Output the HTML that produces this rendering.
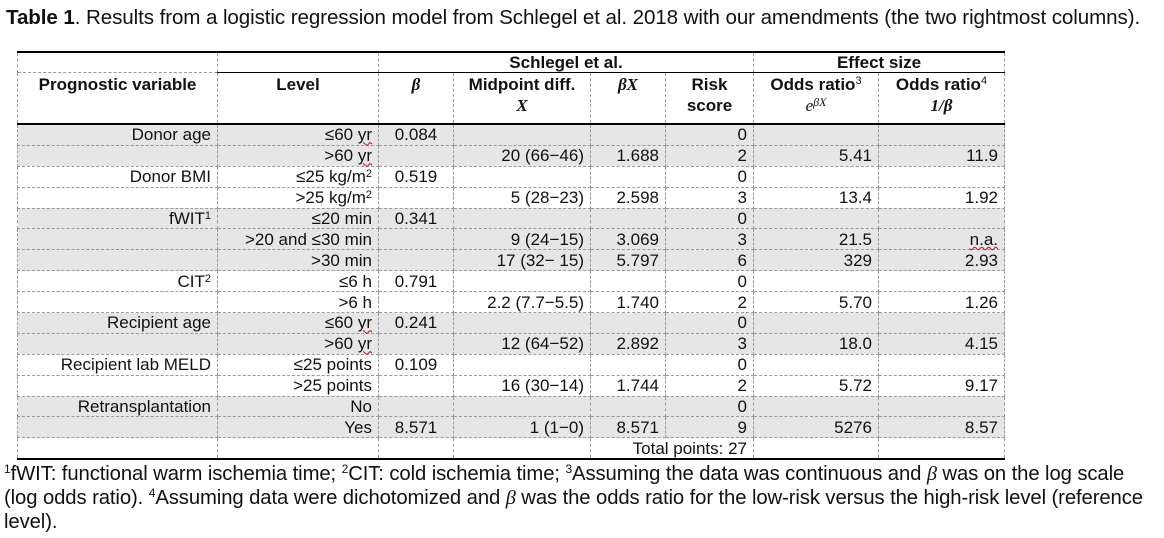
<!DOCTYPE html>
<html><head><meta charset="utf-8"><style>
body{margin:0;width:1164px;height:538px;background:#fff;font-family:"Liberation Sans",Arial,sans-serif;color:#111;position:relative;overflow:hidden}
.title{position:absolute;left:6px;top:6px;font-size:20.6px;white-space:nowrap;letter-spacing:-0.1px}
table{position:absolute;left:17px;top:51px;border-collapse:collapse;table-layout:fixed;font-size:17px;border-top:2px solid #000}
td{border:1px dashed #9a9a9a;padding:0 6px;height:19.9px;line-height:19px;text-align:right;white-space:nowrap;overflow:visible}
tr.g td{background:#e6e6e6}
thead td{font-weight:bold;text-align:center}
.r1 td{height:19px;border-top:2px solid #000;border-bottom:1px solid #000}
.r2 td{height:49px;border-bottom:2px solid #000;vertical-align:top;line-height:21px;padding-top:1px}
.r1 td.n{border-bottom:none}
.tot td{border-bottom:2px solid #000}
i.m{font-family:"Liberation Serif",serif;font-style:italic;font-weight:bold}
sup{font-size:11px;font-weight:normal;vertical-align:top;line-height:14px}
.u{text-decoration:underline wavy #d00;text-decoration-thickness:1px}
.foot{position:absolute;left:4px;top:462px;font-size:20.3px;line-height:24px;white-space:nowrap;letter-spacing:-0.1px}
.foot sup{font-size:12px}
</style></head><body>
<div class="title"><b>Table 1</b>. Results from a logistic regression model from Schlegel et al. 2018 with our amendments (the two rightmost columns).</div>
<table>
<colgroup><col style="width:200px"><col style="width:161px"><col style="width:75px"><col style="width:137px"><col style="width:75px"><col style="width:88px"><col style="width:125px"><col style="width:126px"></colgroup>
<thead>
<tr class="r1"><td class="n"></td><td></td><td colspan="4">Schlegel et al.</td><td colspan="2">Effect size</td></tr>
<tr class="r2"><td>Prognostic variable</td><td>Level</td><td><i class="m">β</i></td><td>Midpoint diff.<br><i class="m">X</i></td><td><i class="m">βX</i></td><td>Risk<br>score</td><td>Odds ratio<sup>3</sup><br><i class="m" style="font-weight:normal">e<sup style="font-size:12px">βX</sup></i></td><td>Odds ratio<sup>4</sup><br><i class="m">1/β</i></td></tr>
</thead>
<tbody>
<tr class="g"><td>Donor age</td><td>≤60 <span class="u">yr</span></td><td style="text-align:center">0.084</td><td></td><td></td><td>0</td><td></td><td></td></tr>
<tr class="g"><td></td><td>&gt;60 <span class="u">yr</span></td><td></td><td>20 (66−46)</td><td>1.688</td><td>2</td><td>5.41</td><td>11.9</td></tr>
<tr><td>Donor BMI</td><td>≤25 kg/m<sup>2</sup></td><td style="text-align:center">0.519</td><td></td><td></td><td>0</td><td></td><td></td></tr>
<tr><td></td><td>&gt;25 kg/m<sup>2</sup></td><td></td><td>5 (28−23)</td><td>2.598</td><td>3</td><td>13.4</td><td>1.92</td></tr>
<tr class="g"><td>fWIT<sup>1</sup></td><td>≤20 min</td><td style="text-align:center">0.341</td><td></td><td></td><td>0</td><td></td><td></td></tr>
<tr class="g"><td></td><td>&gt;20 and ≤30 min</td><td></td><td>9 (24−15)</td><td>3.069</td><td>3</td><td>21.5</td><td><span class="u">n.a.</span></td></tr>
<tr class="g"><td></td><td>&gt;30 min</td><td></td><td>17 (32− 15)</td><td>5.797</td><td>6</td><td>329</td><td>2.93</td></tr>
<tr><td>CIT<sup>2</sup></td><td>≤6 h</td><td style="text-align:center">0.791</td><td></td><td></td><td>0</td><td></td><td></td></tr>
<tr><td></td><td>&gt;6 h</td><td></td><td>2.2 (7.7−5.5)</td><td>1.740</td><td>2</td><td>5.70</td><td>1.26</td></tr>
<tr class="g"><td>Recipient age</td><td>≤60 <span class="u">yr</span></td><td style="text-align:center">0.241</td><td></td><td></td><td>0</td><td></td><td></td></tr>
<tr class="g"><td></td><td>&gt;60 <span class="u">yr</span></td><td></td><td>12 (64−52)</td><td>2.892</td><td>3</td><td>18.0</td><td>4.15</td></tr>
<tr><td>Recipient lab MELD</td><td>≤25 points</td><td style="text-align:center">0.109</td><td></td><td></td><td>0</td><td></td><td></td></tr>
<tr><td></td><td>&gt;25 points</td><td></td><td>16 (30−14)</td><td>1.744</td><td>2</td><td>5.72</td><td>9.17</td></tr>
<tr class="g"><td>Retransplantation</td><td>No</td><td></td><td></td><td></td><td>0</td><td></td><td></td></tr>
<tr class="g"><td></td><td>Yes</td><td style="text-align:center">8.571</td><td>1 (1−0)</td><td>8.571</td><td>9</td><td>5276</td><td>8.57</td></tr>
<tr class="tot"><td></td><td></td><td></td><td></td><td colspan="2">Total points: 27</td><td></td><td></td></tr>
</tbody></table>
<div class="foot"><sup>1</sup>fWIT: functional warm ischemia time; <sup>2</sup>CIT: cold ischemia time; <sup>3</sup>Assuming the data was continuous and <i style="font-family:'Liberation Serif',serif">β</i> was on the log scale<br>(log odds ratio). <sup>4</sup>Assuming data were dichotomized and <i style="font-family:'Liberation Serif',serif">β</i> was the odds ratio for the low-risk versus the high-risk level (reference<br>level).</div>
</body></html>
